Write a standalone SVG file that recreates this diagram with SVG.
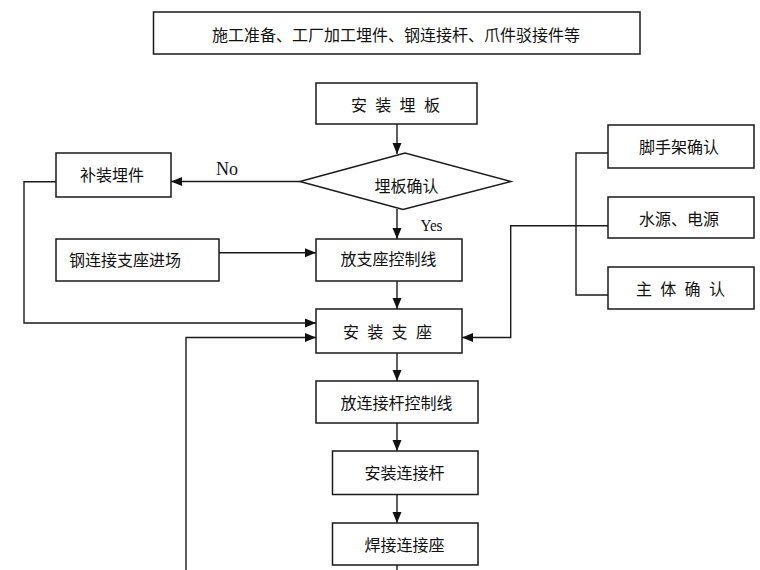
<svg xmlns="http://www.w3.org/2000/svg" width="760" height="570" viewBox="0 0 760 570">
<style>
.box{fill:#fff;stroke:#1a1a1a;stroke-width:1.5}
.t{font-family:"Noto Sans CJK SC","Noto Sans",sans-serif;font-size:16px;fill:#111}
.c{text-anchor:middle}
.sp{letter-spacing:8.3px}
.en{font-family:"Liberation Serif","Times New Roman",serif;fill:#111}
.ln{fill:none;stroke:#1a1a1a;stroke-width:1.4}
.ar{marker-end:url(#ah)}
</style>
<defs>
<marker id="ah" markerUnits="userSpaceOnUse" markerWidth="12" markerHeight="10" viewBox="0 0 12 10" refX="11" refY="5" orient="auto">
<path d="M0,0.5 L11,5 L0,9.5 z" fill="#111"/>
</marker>
</defs>
<rect width="760" height="570" fill="#fff"/>
<g id="connectors">
<path class="ln ar" d="M397,124 V154"/>
<path class="ln ar" d="M300,181.5 H171"/>
<path class="ln ar" d="M397,209 V239"/>
<path class="ln ar" d="M219,252.7 H316"/>
<path class="ln ar" d="M397,281 V309"/>
<path class="ln ar" d="M56,181.7 H24 V323 H316"/>
<path class="ln ar" d="M186,570 V337.5 H316"/>
<path class="ln ar" d="M608,225.7 H510.7 V337.5 H462"/>
<path class="ln" d="M608,153 H576 V295 H608"/>
<path class="ln ar" d="M397,353 V381"/>
<path class="ln ar" d="M397,423 V451"/>
<path class="ln ar" d="M397,494.5 V523"/>
<path class="ln" d="M397,565 V570"/>
<text class="en" x="216" y="175" font-size="18">No</text>
<text class="en" x="420.5" y="231" font-size="16" textLength="22" lengthAdjust="spacingAndGlyphs">Yes</text>
</g>
<g id="n-prep">
<rect class="box" x="153.5" y="12" width="486.5" height="42"/>
<text class="t c" x="396" y="40.5">施工准备、工厂加工埋件、钢连接杆、爪件驳接件等</text>
</g>
<g id="n-install-plate">
<rect class="box" x="316" y="83" width="161" height="41"/>
<text class="t sp" x="351" y="110.5">安装埋板</text>
</g>
<g id="n-check-plate">
<polygon class="box" points="300,181.5 405,153 511,181.5 403,209.5"/>
<text class="t c" x="406.5" y="191.5">埋板确认</text>
</g>
<g id="n-patch">
<rect class="box" x="56" y="153" width="115" height="44"/>
<text class="t c" x="112" y="181">补装埋件</text>
</g>
<g id="n-steel-in">
<rect class="box" x="56" y="239" width="163" height="42"/>
<text class="t" x="69" y="266">钢连接支座进场</text>
</g>
<g id="n-seat-line">
<rect class="box" x="316" y="239" width="146" height="42"/>
<text class="t c" x="388.5" y="265">放支座控制线</text>
</g>
<g id="n-install-seat">
<rect class="box" x="316" y="309" width="146" height="44"/>
<text class="t sp" x="343" y="337.5">安装支座</text>
</g>
<g id="n-rod-line">
<rect class="box" x="316" y="381" width="162" height="42"/>
<text class="t c" x="396.5" y="408.5">放连接杆控制线</text>
</g>
<g id="n-install-rod">
<rect class="box" x="332.5" y="451" width="145.5" height="43.5"/>
<text class="t c" x="404.5" y="478.5">安装连接杆</text>
</g>
<g id="n-weld">
<rect class="box" x="332.5" y="523" width="145.5" height="42"/>
<text class="t c" x="404.5" y="551">焊接连接座</text>
</g>
<g id="n-scaffold">
<rect class="box" x="608" y="125" width="146" height="43"/>
<text class="t c" x="679" y="153">脚手架确认</text>
</g>
<g id="n-water">
<rect class="box" x="608" y="197" width="146" height="41"/>
<text class="t c" x="679" y="224.5">水源、电源</text>
</g>
<g id="n-main">
<rect class="box" x="608" y="267" width="146" height="42"/>
<text class="t sp" x="636" y="295">主体确认</text>
</g>
</svg>
